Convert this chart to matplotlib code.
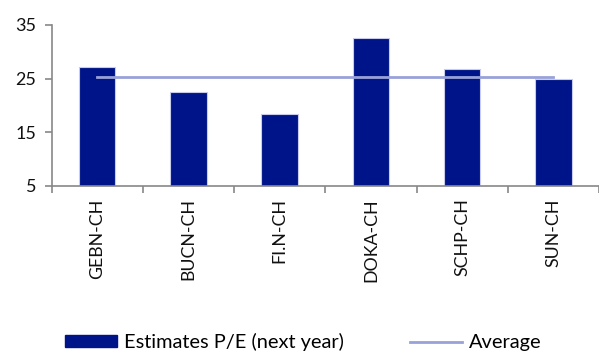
import matplotlib
matplotlib.use("Agg")
import matplotlib.pyplot as plt
from matplotlib.patches import Patch
from matplotlib.lines import Line2D
import numpy as np

categories = ["GEBN-CH", "BUCN-CH", "FI.N-CH", "DOKA-CH", "SCHP-CH", "SUN-CH"]
pe_values = [27.2, 22.5, 18.4, 32.6, 26.7, 24.9]
average_value = 25.3
yticks = [5, 15, 25, 35]

plt.rcParams['font.family'] = ['Lato', 'DejaVu Sans']

fig = plt.figure(figsize=(5.99, 3.52), dpi=100)
ax = fig.add_axes([0.086, 0.472, 0.914, 0.457])

x = np.arange(len(categories))
bar_color = "#001489"
line_color = "#98A2D8"
ax.bar(x, [v - 5 for v in pe_values], bottom=5, width=0.4, color=bar_color,
       edgecolor="#C8CCEA", linewidth=0.8, zorder=2)
ax.plot([x[0], x[-1]], [average_value, average_value], color=line_color, lw=2, zorder=3)

ax.set_xlim(-0.5, len(categories) - 0.5)
ax.set_ylim(5, 35)
ax.set_yticks(yticks)
ax.set_xticks(x)
ax.set_xticklabels(categories, rotation=90, fontsize=12.8, color="#111111")
ax.set_xticks(np.arange(-0.5, len(categories) + 0.5, 1), minor=True)
ax.tick_params(axis='x', which='major', length=0, pad=9)
ax.tick_params(axis='x', which='minor', length=5, color="#888888", width=1.2, direction='out')
ax.tick_params(axis='y', length=5, color="#888888", width=1.2, labelsize=13, labelcolor="#111111", pad=6)

for s in ["top", "right"]:
    ax.spines[s].set_visible(False)
for s in ["left", "bottom"]:
    ax.spines[s].set_color("#888888")
    ax.spines[s].set_linewidth(1.2)

handles = [Patch(facecolor=bar_color, edgecolor=bar_color),
           Line2D([], [], color=line_color, lw=2)]
labels = ["Estimates P/E (next year)", "Average"]
fig.legend(handles, labels, loc='center', bbox_to_anchor=(0.506, 0.028), ncol=2,
           frameon=False, fontsize=14.4, handlelength=2.6, handleheight=0.5,
           handletextpad=0.36, columnspacing=3.3, borderpad=0, borderaxespad=0)

fig.savefig("out.png", dpi=100)
